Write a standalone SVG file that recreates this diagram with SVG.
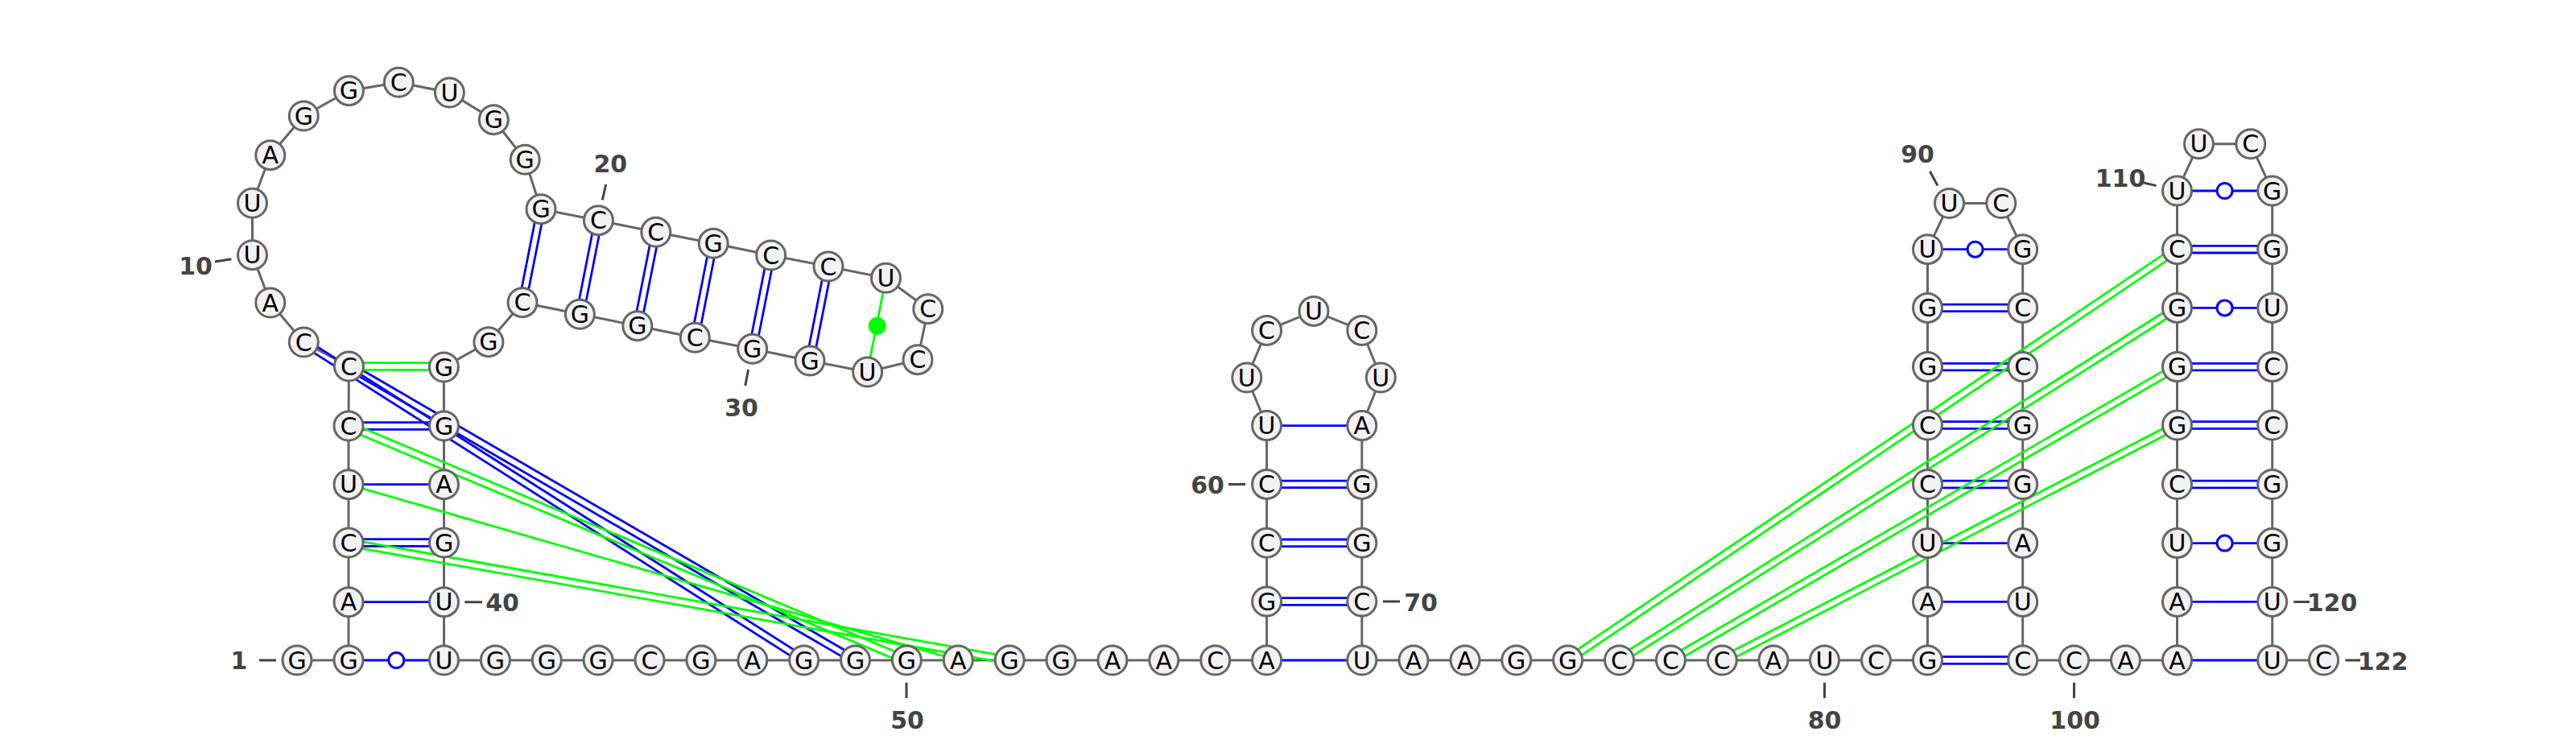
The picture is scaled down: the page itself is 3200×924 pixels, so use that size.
<svg xmlns="http://www.w3.org/2000/svg" width="3200" height="924" viewBox="0 0 3200 924">
<style>
text{font-family:"DejaVu Sans",sans-serif;text-anchor:middle}
.n circle{fill:#f2f2f2;stroke:#666;stroke-width:3}
.n text{font-size:30px;fill:#000;transform:translateY(.6px)}
.bb{fill:none;stroke:#666;stroke-width:3}
.b{stroke:#00f;stroke-width:2.8;fill:none}
.g{stroke:#0f0;stroke-width:2.8;fill:none}
.o{fill:#fff;stroke:#00f;stroke-width:3}
.t{stroke:#444;stroke-width:3}
.l{font-size:30px;font-weight:bold;fill:#444}
</style>
<rect width="3200" height="924" fill="#fff"/>
<g id="connectors">
<polyline class="bb" points="369,820 433,820 433,747.7 433,674 433,601.7 433,529 433.4,455 377.3,425 335.8,376 313.5,316.7 313.5,252.3 335.8,192.7 377.3,144 433.4,112.7 495.3,102.3 558.4,115 613.3,148.7 652.2,198.3 672,259.7 743.4,273.7 814.8,288.3 886.2,302.3 957.7,317 1029,331 1100.5,345.3 1152.8,383.7 1140,446.7 1077.6,462 1006,448 934.7,433.3 863.3,419.3 791.8,404.7 720.4,390.3 649,375.7 606.9,424.7 551.4,456 551.5,529 551.5,601.7 551.5,674 551.5,747.7 551.5,820 615.4,820 679.3,820 743.1,820 807,820 870.9,820 934.8,820 998.7,820 1062.5,820 1126.4,820 1190.3,820 1254.2,820 1318,820 1381.9,820 1445.8,820 1509.7,820 1573.6,820 1573.6,747 1573.6,674.3 1573.6,601.4 1573.6,528.6 1548.8,469 1573.6,410.4 1632,386.4 1691.8,410.4 1715.3,469 1691.8,528.6 1691.8,601.4 1691.8,674.3 1691.8,747 1691.8,820 1756,820 1820,820 1883.7,820 1947.6,820 2011.5,820 2075.4,820 2139.3,820 2203,820 2266.5,820 2330.5,820 2394.5,820 2394.5,747.4 2394.5,674.6 2394.5,601.5 2394.5,528 2394.5,455.6 2394.5,382.4 2394.5,309.7 2421.5,252.5 2485.8,252.5 2512.7,309.7 2512.7,382.4 2512.7,455.6 2512.7,528 2512.7,601.5 2512.7,674.6 2512.7,747.4 2512.7,820 2576.6,820 2640.5,820 2704.5,820 2704.5,747.4 2704.5,674.6 2704.5,601.5 2704.5,528 2704.5,455.6 2704.5,382.4 2704.5,309.7 2704.5,237 2731.5,178.8 2795.8,178.8 2822.7,237 2822.7,309.7 2822.7,382.4 2822.7,455.6 2822.7,528 2822.7,601.5 2822.7,674.6 2822.7,747.4 2822.7,820 2886.6,820"/>
<g id="pairs-blue" class="b">
<path d="M433 820H551.5"/>
<path d="M433 747.7H551.5"/>
<path d="M433 601.7H551.5"/>
<path d="M433 524.7H551.5M433 533.3H551.5"/>
<path d="M433 669.7H551.5M433 678.3H551.5"/>
<path d="M379.6 421.4L1001 816.4M375 428.6L996.4 823.6"/>
<path d="M435.6 451.3L1064.7 816.3M431.2 458.7L1060.3 823.7"/>
<path d="M667.7 258.8L644.7 374.8M676.3 260.6L653.3 376.6"/>
<path d="M739.1 272.8L716.1 389.4M747.7 274.6L724.7 391.2"/>
<path d="M810.5 287.4L787.5 403.8M819.1 289.2L796.1 405.6"/>
<path d="M881.9 301.4L859 418.4M890.5 303.2L867.6 420.2"/>
<path d="M953.4 316.1L930.4 432.4M962 317.9L939 434.2"/>
<path d="M1024.7 330.1L1001.7 447.1M1033.3 331.9L1010.3 448.9"/>
<path d="M1573.6 820H1691.8"/>
<path d="M1573.6 742.7H1691.8M1573.6 751.3H1691.8"/>
<path d="M1573.6 670H1691.8M1573.6 678.6H1691.8"/>
<path d="M1573.6 597.1H1691.8M1573.6 605.7H1691.8"/>
<path d="M1573.6 528.6H1691.8"/>
<path d="M2394.5 815.7H2512.7M2394.5 824.3H2512.7"/>
<path d="M2394.5 747.4H2512.7"/>
<path d="M2394.5 674.6H2512.7"/>
<path d="M2394.5 597.2H2512.7M2394.5 605.8H2512.7"/>
<path d="M2394.5 523.7H2512.7M2394.5 532.3H2512.7"/>
<path d="M2394.5 451.3H2512.7M2394.5 459.9H2512.7"/>
<path d="M2394.5 378.1H2512.7M2394.5 386.7H2512.7"/>
<path d="M2394.5 309.7H2512.7"/>
<path d="M2704.5 820H2822.7"/>
<path d="M2704.5 747.4H2822.7"/>
<path d="M2704.5 674.6H2822.7"/>
<path d="M2704.5 597.2H2822.7M2704.5 605.8H2822.7"/>
<path d="M2704.5 523.7H2822.7M2704.5 532.3H2822.7"/>
<path d="M2704.5 451.3H2822.7M2704.5 459.9H2822.7"/>
<path d="M2704.5 382.4H2822.7"/>
<path d="M2704.5 305.4H2822.7M2704.5 314H2822.7"/>
<path d="M2704.5 237H2822.7"/>
</g>
<g id="pairs-green" class="g">
<path d="M433.4 450.7H551.4M433.4 459.3H551.4"/>
<path d="M434.7 525L1128.1 816M431.3 533L1124.7 824"/>
<path d="M433 601.7L1190.3 820"/>
<path d="M433.8 669.8L1255 815.8M432.3 678.2L1253.5 824.2"/>
<path d="M1100.5 345.3L1077.6 462"/>
<path d="M1945.2 816.4L2702.1 306.1M1950 823.6L2706.9 313.3"/>
<path d="M2009.2 816.4L2702.2 378.8M2013.8 823.6L2706.8 386"/>
<path d="M2073.2 816.3L2702.3 451.9M2077.6 823.7L2706.7 459.3"/>
<path d="M2137.3 816.2L2702.5 524.2M2141.3 823.8L2706.5 531.8"/>
</g>
<circle cx="1089.7" cy="404.7" r="11" fill="#0f0"/>
<circle class="o" cx="492.3" cy="820" r="9.5"/>
<circle class="o" cx="2453.6" cy="309.7" r="9.5"/>
<circle class="o" cx="2763.6" cy="237" r="9.5"/>
<circle class="o" cx="2763.6" cy="382.4" r="9.5"/>
<circle class="o" cx="2763.6" cy="674.6" r="9.5"/>
</g>
<g id="nodes">
<g class="n" id="n1"><circle cx="369" cy="820" r="18"/><text x="369" y="830">G</text></g>
<g class="n" id="n2"><circle cx="433" cy="820" r="18"/><text x="433" y="830">G</text></g>
<g class="n" id="n3"><circle cx="433" cy="747.7" r="18"/><text x="433" y="757.7">A</text></g>
<g class="n" id="n4"><circle cx="433" cy="674" r="18"/><text x="433" y="684">C</text></g>
<g class="n" id="n5"><circle cx="433" cy="601.7" r="18"/><text x="433" y="611.7">U</text></g>
<g class="n" id="n6"><circle cx="433" cy="529" r="18"/><text x="433" y="539">C</text></g>
<g class="n" id="n7"><circle cx="433.4" cy="455" r="18"/><text x="433.4" y="465">C</text></g>
<g class="n" id="n8"><circle cx="377.3" cy="425" r="18"/><text x="377.3" y="435">C</text></g>
<g class="n" id="n9"><circle cx="335.8" cy="376" r="18"/><text x="335.8" y="386">A</text></g>
<g class="n" id="n10"><circle cx="313.5" cy="316.7" r="18"/><text x="313.5" y="326.7">U</text></g>
<g class="n" id="n11"><circle cx="313.5" cy="252.3" r="18"/><text x="313.5" y="262.3">U</text></g>
<g class="n" id="n12"><circle cx="335.8" cy="192.7" r="18"/><text x="335.8" y="202.7">A</text></g>
<g class="n" id="n13"><circle cx="377.3" cy="144" r="18"/><text x="377.3" y="154">G</text></g>
<g class="n" id="n14"><circle cx="433.4" cy="112.7" r="18"/><text x="433.4" y="122.7">G</text></g>
<g class="n" id="n15"><circle cx="495.3" cy="102.3" r="18"/><text x="495.3" y="112.3">C</text></g>
<g class="n" id="n16"><circle cx="558.4" cy="115" r="18"/><text x="558.4" y="125">U</text></g>
<g class="n" id="n17"><circle cx="613.3" cy="148.7" r="18"/><text x="613.3" y="158.7">G</text></g>
<g class="n" id="n18"><circle cx="652.2" cy="198.3" r="18"/><text x="652.2" y="208.3">G</text></g>
<g class="n" id="n19"><circle cx="672" cy="259.7" r="18"/><text x="672" y="269.7">G</text></g>
<g class="n" id="n20"><circle cx="743.4" cy="273.7" r="18"/><text x="743.4" y="283.7">C</text></g>
<g class="n" id="n21"><circle cx="814.8" cy="288.3" r="18"/><text x="814.8" y="298.3">C</text></g>
<g class="n" id="n22"><circle cx="886.2" cy="302.3" r="18"/><text x="886.2" y="312.3">G</text></g>
<g class="n" id="n23"><circle cx="957.7" cy="317" r="18"/><text x="957.7" y="327">C</text></g>
<g class="n" id="n24"><circle cx="1029" cy="331" r="18"/><text x="1029" y="341">C</text></g>
<g class="n" id="n25"><circle cx="1100.5" cy="345.3" r="18"/><text x="1100.5" y="355.3">U</text></g>
<g class="n" id="n26"><circle cx="1152.8" cy="383.7" r="18"/><text x="1152.8" y="393.7">C</text></g>
<g class="n" id="n27"><circle cx="1140" cy="446.7" r="18"/><text x="1140" y="456.7">C</text></g>
<g class="n" id="n28"><circle cx="1077.6" cy="462" r="18"/><text x="1077.6" y="472">U</text></g>
<g class="n" id="n29"><circle cx="1006" cy="448" r="18"/><text x="1006" y="458">G</text></g>
<g class="n" id="n30"><circle cx="934.7" cy="433.3" r="18"/><text x="934.7" y="443.3">G</text></g>
<g class="n" id="n31"><circle cx="863.3" cy="419.3" r="18"/><text x="863.3" y="429.3">C</text></g>
<g class="n" id="n32"><circle cx="791.8" cy="404.7" r="18"/><text x="791.8" y="414.7">G</text></g>
<g class="n" id="n33"><circle cx="720.4" cy="390.3" r="18"/><text x="720.4" y="400.3">G</text></g>
<g class="n" id="n34"><circle cx="649" cy="375.7" r="18"/><text x="649" y="385.7">C</text></g>
<g class="n" id="n35"><circle cx="606.9" cy="424.7" r="18"/><text x="606.9" y="434.7">G</text></g>
<g class="n" id="n36"><circle cx="551.4" cy="456" r="18"/><text x="551.4" y="466">G</text></g>
<g class="n" id="n37"><circle cx="551.5" cy="529" r="18"/><text x="551.5" y="539">G</text></g>
<g class="n" id="n38"><circle cx="551.5" cy="601.7" r="18"/><text x="551.5" y="611.7">A</text></g>
<g class="n" id="n39"><circle cx="551.5" cy="674" r="18"/><text x="551.5" y="684">G</text></g>
<g class="n" id="n40"><circle cx="551.5" cy="747.7" r="18"/><text x="551.5" y="757.7">U</text></g>
<g class="n" id="n41"><circle cx="551.5" cy="820" r="18"/><text x="551.5" y="830">U</text></g>
<g class="n" id="n42"><circle cx="615.4" cy="820" r="18"/><text x="615.4" y="830">G</text></g>
<g class="n" id="n43"><circle cx="679.3" cy="820" r="18"/><text x="679.3" y="830">G</text></g>
<g class="n" id="n44"><circle cx="743.1" cy="820" r="18"/><text x="743.1" y="830">G</text></g>
<g class="n" id="n45"><circle cx="807" cy="820" r="18"/><text x="807" y="830">C</text></g>
<g class="n" id="n46"><circle cx="870.9" cy="820" r="18"/><text x="870.9" y="830">G</text></g>
<g class="n" id="n47"><circle cx="934.8" cy="820" r="18"/><text x="934.8" y="830">A</text></g>
<g class="n" id="n48"><circle cx="998.7" cy="820" r="18"/><text x="998.7" y="830">G</text></g>
<g class="n" id="n49"><circle cx="1062.5" cy="820" r="18"/><text x="1062.5" y="830">G</text></g>
<g class="n" id="n50"><circle cx="1126.4" cy="820" r="18"/><text x="1126.4" y="830">G</text></g>
<g class="n" id="n51"><circle cx="1190.3" cy="820" r="18"/><text x="1190.3" y="830">A</text></g>
<g class="n" id="n52"><circle cx="1254.2" cy="820" r="18"/><text x="1254.2" y="830">G</text></g>
<g class="n" id="n53"><circle cx="1318" cy="820" r="18"/><text x="1318" y="830">G</text></g>
<g class="n" id="n54"><circle cx="1381.9" cy="820" r="18"/><text x="1381.9" y="830">A</text></g>
<g class="n" id="n55"><circle cx="1445.8" cy="820" r="18"/><text x="1445.8" y="830">A</text></g>
<g class="n" id="n56"><circle cx="1509.7" cy="820" r="18"/><text x="1509.7" y="830">C</text></g>
<g class="n" id="n57"><circle cx="1573.6" cy="820" r="18"/><text x="1573.6" y="830">A</text></g>
<g class="n" id="n58"><circle cx="1573.6" cy="747" r="18"/><text x="1573.6" y="757">G</text></g>
<g class="n" id="n59"><circle cx="1573.6" cy="674.3" r="18"/><text x="1573.6" y="684.3">C</text></g>
<g class="n" id="n60"><circle cx="1573.6" cy="601.4" r="18"/><text x="1573.6" y="611.4">C</text></g>
<g class="n" id="n61"><circle cx="1573.6" cy="528.6" r="18"/><text x="1573.6" y="538.6">U</text></g>
<g class="n" id="n62"><circle cx="1548.8" cy="469" r="18"/><text x="1548.8" y="479">U</text></g>
<g class="n" id="n63"><circle cx="1573.6" cy="410.4" r="18"/><text x="1573.6" y="420.4">C</text></g>
<g class="n" id="n64"><circle cx="1632" cy="386.4" r="18"/><text x="1632" y="396.4">U</text></g>
<g class="n" id="n65"><circle cx="1691.8" cy="410.4" r="18"/><text x="1691.8" y="420.4">C</text></g>
<g class="n" id="n66"><circle cx="1715.3" cy="469" r="18"/><text x="1715.3" y="479">U</text></g>
<g class="n" id="n67"><circle cx="1691.8" cy="528.6" r="18"/><text x="1691.8" y="538.6">A</text></g>
<g class="n" id="n68"><circle cx="1691.8" cy="601.4" r="18"/><text x="1691.8" y="611.4">G</text></g>
<g class="n" id="n69"><circle cx="1691.8" cy="674.3" r="18"/><text x="1691.8" y="684.3">G</text></g>
<g class="n" id="n70"><circle cx="1691.8" cy="747" r="18"/><text x="1691.8" y="757">C</text></g>
<g class="n" id="n71"><circle cx="1691.8" cy="820" r="18"/><text x="1691.8" y="830">U</text></g>
<g class="n" id="n72"><circle cx="1756" cy="820" r="18"/><text x="1756" y="830">A</text></g>
<g class="n" id="n73"><circle cx="1820" cy="820" r="18"/><text x="1820" y="830">A</text></g>
<g class="n" id="n74"><circle cx="1883.7" cy="820" r="18"/><text x="1883.7" y="830">G</text></g>
<g class="n" id="n75"><circle cx="1947.6" cy="820" r="18"/><text x="1947.6" y="830">G</text></g>
<g class="n" id="n76"><circle cx="2011.5" cy="820" r="18"/><text x="2011.5" y="830">C</text></g>
<g class="n" id="n77"><circle cx="2075.4" cy="820" r="18"/><text x="2075.4" y="830">C</text></g>
<g class="n" id="n78"><circle cx="2139.3" cy="820" r="18"/><text x="2139.3" y="830">C</text></g>
<g class="n" id="n79"><circle cx="2203" cy="820" r="18"/><text x="2203" y="830">A</text></g>
<g class="n" id="n80"><circle cx="2266.5" cy="820" r="18"/><text x="2266.5" y="830">U</text></g>
<g class="n" id="n81"><circle cx="2330.5" cy="820" r="18"/><text x="2330.5" y="830">C</text></g>
<g class="n" id="n82"><circle cx="2394.5" cy="820" r="18"/><text x="2394.5" y="830">G</text></g>
<g class="n" id="n83"><circle cx="2394.5" cy="747.4" r="18"/><text x="2394.5" y="757.4">A</text></g>
<g class="n" id="n84"><circle cx="2394.5" cy="674.6" r="18"/><text x="2394.5" y="684.6">U</text></g>
<g class="n" id="n85"><circle cx="2394.5" cy="601.5" r="18"/><text x="2394.5" y="611.5">C</text></g>
<g class="n" id="n86"><circle cx="2394.5" cy="528" r="18"/><text x="2394.5" y="538">C</text></g>
<g class="n" id="n87"><circle cx="2394.5" cy="455.6" r="18"/><text x="2394.5" y="465.6">G</text></g>
<g class="n" id="n88"><circle cx="2394.5" cy="382.4" r="18"/><text x="2394.5" y="392.4">G</text></g>
<g class="n" id="n89"><circle cx="2394.5" cy="309.7" r="18"/><text x="2394.5" y="319.7">U</text></g>
<g class="n" id="n90"><circle cx="2421.5" cy="252.5" r="18"/><text x="2421.5" y="262.5">U</text></g>
<g class="n" id="n91"><circle cx="2485.8" cy="252.5" r="18"/><text x="2485.8" y="262.5">C</text></g>
<g class="n" id="n92"><circle cx="2512.7" cy="309.7" r="18"/><text x="2512.7" y="319.7">G</text></g>
<g class="n" id="n93"><circle cx="2512.7" cy="382.4" r="18"/><text x="2512.7" y="392.4">C</text></g>
<g class="n" id="n94"><circle cx="2512.7" cy="455.6" r="18"/><text x="2512.7" y="465.6">C</text></g>
<g class="n" id="n95"><circle cx="2512.7" cy="528" r="18"/><text x="2512.7" y="538">G</text></g>
<g class="n" id="n96"><circle cx="2512.7" cy="601.5" r="18"/><text x="2512.7" y="611.5">G</text></g>
<g class="n" id="n97"><circle cx="2512.7" cy="674.6" r="18"/><text x="2512.7" y="684.6">A</text></g>
<g class="n" id="n98"><circle cx="2512.7" cy="747.4" r="18"/><text x="2512.7" y="757.4">U</text></g>
<g class="n" id="n99"><circle cx="2512.7" cy="820" r="18"/><text x="2512.7" y="830">C</text></g>
<g class="n" id="n100"><circle cx="2576.6" cy="820" r="18"/><text x="2576.6" y="830">C</text></g>
<g class="n" id="n101"><circle cx="2640.5" cy="820" r="18"/><text x="2640.5" y="830">A</text></g>
<g class="n" id="n102"><circle cx="2704.5" cy="820" r="18"/><text x="2704.5" y="830">A</text></g>
<g class="n" id="n103"><circle cx="2704.5" cy="747.4" r="18"/><text x="2704.5" y="757.4">A</text></g>
<g class="n" id="n104"><circle cx="2704.5" cy="674.6" r="18"/><text x="2704.5" y="684.6">U</text></g>
<g class="n" id="n105"><circle cx="2704.5" cy="601.5" r="18"/><text x="2704.5" y="611.5">C</text></g>
<g class="n" id="n106"><circle cx="2704.5" cy="528" r="18"/><text x="2704.5" y="538">G</text></g>
<g class="n" id="n107"><circle cx="2704.5" cy="455.6" r="18"/><text x="2704.5" y="465.6">G</text></g>
<g class="n" id="n108"><circle cx="2704.5" cy="382.4" r="18"/><text x="2704.5" y="392.4">G</text></g>
<g class="n" id="n109"><circle cx="2704.5" cy="309.7" r="18"/><text x="2704.5" y="319.7">C</text></g>
<g class="n" id="n110"><circle cx="2704.5" cy="237" r="18"/><text x="2704.5" y="247">U</text></g>
<g class="n" id="n111"><circle cx="2731.5" cy="178.8" r="18"/><text x="2731.5" y="188.8">U</text></g>
<g class="n" id="n112"><circle cx="2795.8" cy="178.8" r="18"/><text x="2795.8" y="188.8">C</text></g>
<g class="n" id="n113"><circle cx="2822.7" cy="237" r="18"/><text x="2822.7" y="247">G</text></g>
<g class="n" id="n114"><circle cx="2822.7" cy="309.7" r="18"/><text x="2822.7" y="319.7">G</text></g>
<g class="n" id="n115"><circle cx="2822.7" cy="382.4" r="18"/><text x="2822.7" y="392.4">U</text></g>
<g class="n" id="n116"><circle cx="2822.7" cy="455.6" r="18"/><text x="2822.7" y="465.6">C</text></g>
<g class="n" id="n117"><circle cx="2822.7" cy="528" r="18"/><text x="2822.7" y="538">C</text></g>
<g class="n" id="n118"><circle cx="2822.7" cy="601.5" r="18"/><text x="2822.7" y="611.5">G</text></g>
<g class="n" id="n119"><circle cx="2822.7" cy="674.6" r="18"/><text x="2822.7" y="684.6">G</text></g>
<g class="n" id="n120"><circle cx="2822.7" cy="747.4" r="18"/><text x="2822.7" y="757.4">U</text></g>
<g class="n" id="n121"><circle cx="2822.7" cy="820" r="18"/><text x="2822.7" y="830">U</text></g>
<g class="n" id="n122"><circle cx="2886.6" cy="820" r="18"/><text x="2886.6" y="830">C</text></g>
</g>
<g id="labels">
<path class="t" d="M322 820H343M267 325L287.4 321.7M752.7 229L748.3 248.3M929.6 459L925.8 479M577.3 747.7H599M1126 847.7V867M1526 601.4H1547M1718 747H1739M2266.5 847.7V867M2576.5 847.7V867M2397.4 212.7L2407 230.6M2659.7 226.3L2678.6 230.6M2849.3 747.4H2869M2913.4 820H2932"/>
<text class="l" x="297" y="831">1</text>
<text class="l" x="243" y="341">10</text>
<text class="l" x="758.3" y="213.5">20</text>
<text class="l" x="921" y="517">30</text>
<text class="l" x="624" y="759">40</text>
<text class="l" x="1127" y="905">50</text>
<text class="l" x="1500" y="613">60</text>
<text class="l" x="1765" y="758.5">70</text>
<text class="l" x="2266.5" y="905">80</text>
<text class="l" x="2382" y="202">90</text>
<text class="l" x="2577.6" y="905">100</text>
<text class="l" x="2634" y="232">110</text>
<text class="l" x="2897" y="759">120</text>
<text class="l" x="2960" y="831.5">122</text>
</g>
</svg>
